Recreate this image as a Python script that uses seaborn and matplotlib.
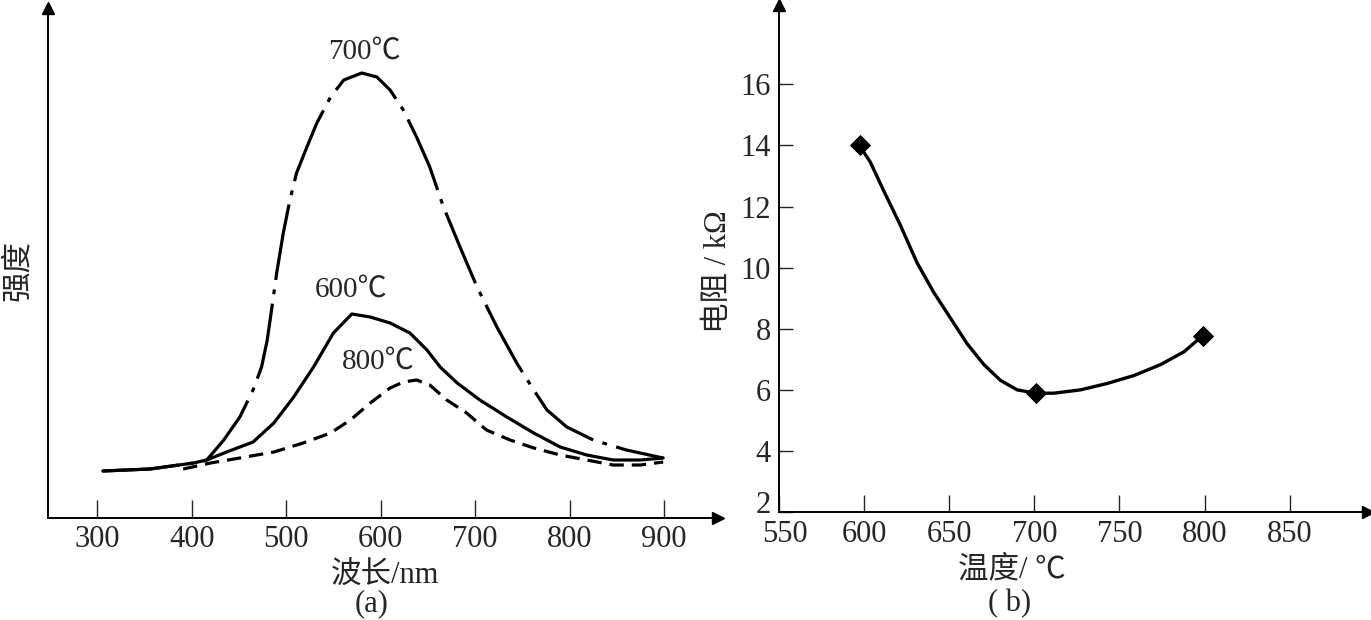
import pandas as pd
import matplotlib
matplotlib.use("Agg")
import matplotlib.pyplot as plt
import matplotlib.transforms as mtrans
import seaborn as sns

### DATA ###

# panel (a): intensity (arbitrary units) vs wavelength
wl_700 = [306, 356, 402, 416, 434, 451, 465, 474, 480, 485, 490, 497, 504, 511, 522, 532.5,
          547, 561, 580, 596, 610, 624, 638, 652, 666.5, 684, 702, 723, 744, 762, 776,
          797, 825, 860, 899]
int_700 = [47, 49, 55, 58, 78, 101, 128, 151, 178, 211, 245, 285, 318, 345, 371, 395,
           421, 438, 445, 441, 428, 408, 381, 351, 311, 271, 231, 191, 155, 128, 108,
           91, 78, 68, 60]

wl_600 = [306, 356, 402, 416, 437, 465, 487, 508, 529, 550, 569.5, 589, 610, 631, 649,
          663, 681, 705, 733.5, 762, 790, 818, 846, 875, 899]
int_600 = [47, 49, 55, 58, 66, 76, 95, 121, 151, 185, 204, 201, 195, 185, 168,
           151, 135, 118, 101, 85, 71, 63, 58, 58, 60]

wl_800 = [391, 420, 451, 487, 518, 547, 568, 589, 610, 624, 638, 652, 670, 691, 712,
          737, 762, 790, 818, 846, 875, 899]
int_800 = [49, 55, 60, 66, 75, 85, 98, 115, 130, 136, 138, 133, 118, 105, 88,
           78, 70, 63, 58, 53, 53, 56]

wl_ticks = [300, 400, 500, 600, 700, 800, 900]

# panel (b): resistance vs temperature
temp_pts = [597.3, 700.7, 798.8]
res_pts = [14.0, 5.89, 7.77]
temp_curve = [597.3, 603.6, 611.4, 621.3, 631.1, 640.9, 650.7, 660.5, 670.3, 680.1,
              689.9, 700.7, 711.5, 727.2, 742.9, 758.6, 774.3, 788, 798.8]
res_curve = [14.0, 13.46, 12.53, 11.39, 10.16, 9.19, 8.35, 7.51, 6.83, 6.31,
             6.0, 5.89, 5.89, 6.0, 6.21, 6.47, 6.83, 7.25, 7.77]
temp_ticks = [550, 600, 650, 700, 750, 800, 850]
res_ticks = [2, 4, 6, 8, 10, 12, 14, 16]

### STYLE ###
sns.set_style("ticks")
plt.rcParams['font.family'] = ['Liberation Serif', 'Noto Sans CJK SC', 'DejaVu Sans']
plt.rcParams['axes.unicode_minus'] = False

W, H = 1371, 620
fig = plt.figure(figsize=(W / 100, H / 100), dpi=100)
ax1 = fig.add_axes([48 / W, 1 - 518 / H, 670 / W, 510 / H])
ax2 = fig.add_axes([779 / W, 1 - 512 / H, 589 / W, 507 / H])

### PANEL (a) ###
spec = pd.concat([
    pd.DataFrame({"wl": wl_700, "I": int_700, "T": "700℃"}),
    pd.DataFrame({"wl": wl_600, "I": int_600, "T": "600℃"}),
    pd.DataFrame({"wl": wl_800, "I": int_800, "T": "800℃"}),
])
sns.lineplot(data=spec, x="wl", y="I", style="T", units="T", estimator=None, sort=False,
             color="black", linewidth=2.3, ax=ax1, legend=False,
             dashes={"700℃": (24, 3, 1.5, 3), "600℃": "", "800℃": (4.5, 2.5)})

ax1.set_xlim(248, 957)
ax1.set_ylim(0, 510)
ax1.set_xticks(wl_ticks)
ax1.set_yticks([])
ax1.tick_params(axis="x", direction="in", length=13, width=1, labelsize=22, pad=5)
ax1.set_xlabel("")
ax1.set_ylabel("")

ax1.text(583, 466, "700℃", ha="center", va="center", fontsize=21)
ax1.text(569, 228, "600℃", ha="center", va="center", fontsize=21)
ax1.text(598, 156, "800℃", ha="center", va="center", fontsize=21)

### PANEL (b) ###
sns.lineplot(x=temp_curve, y=res_curve, color="black", linewidth=2.4, sort=False,
             estimator=None, ax=ax2)
sns.scatterplot(x=temp_pts, y=res_pts, marker="D", color="black", s=100, ax=ax2,
                edgecolor="black", zorder=3)

ax2.set_xlim(550, 896)
ax2.set_ylim(2, 18.6)
ax2.set_xticks(temp_ticks)
ax2.set_yticks(res_ticks)
ax2.tick_params(axis="x", direction="in", length=12, width=1, labelsize=22, pad=6)
ax2.tick_params(axis="y", direction="in", length=10, width=1, labelsize=22, pad=6)
ax2.set_xlabel("")
ax2.set_ylabel("")

# the "2" at the corner sits above its tick, "550" a little to the right
lbl2 = ax2.get_yticklabels()[0]
lbl2.set_transform(lbl2.get_transform() + mtrans.ScaledTranslation(0, 10 / 100, fig.dpi_scale_trans))
lbl550 = ax2.get_xticklabels()[0]
lbl550.set_transform(lbl550.get_transform() + mtrans.ScaledTranslation(6 / 100, 0, fig.dpi_scale_trans))

# axis spines with arrow heads
for ax in (ax1, ax2):
    sns.despine(ax=ax)
    for s in ("left", "bottom"):
        ax.spines[s].set_linewidth(1.4)
        ax.spines[s].set_color("black")
    ax.plot(1, 0, marker=">", markersize=9, color="black", transform=ax.transAxes,
            clip_on=False)
    ax.plot(0, 1, marker="^", markersize=9, color="black", transform=ax.transAxes,
            clip_on=False)

# axis titles and panel tags
fig.text(18 / W, 1 - 270 / H, "强度", rotation=90, ha="center", va="center", fontsize=22)
fig.text(719 / W, 1 - 272 / H, "电阻 / kΩ", rotation=90, ha="center", va="center", fontsize=22)
fig.text(385 / W, 1 - 575 / H, "波长/nm", ha="center", va="center", fontsize=22)
fig.text(372 / W, 1 - 604 / H, "(a)", ha="center", va="center", fontsize=22)
fig.text(1012 / W, 1 - 570 / H, "温度/ ℃", ha="center", va="center", fontsize=22)
fig.text(1010 / W, 1 - 604 / H, "( b)", ha="center", va="center", fontsize=22)

fig.savefig("out.png", dpi=100)
